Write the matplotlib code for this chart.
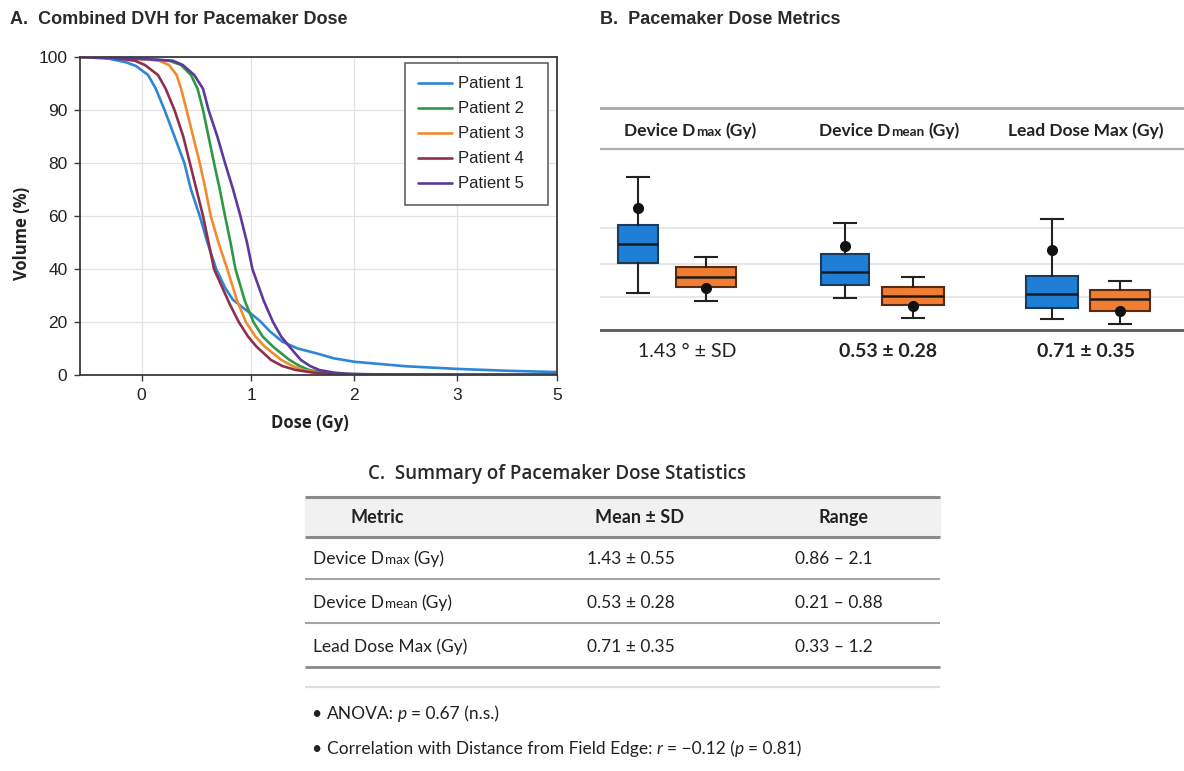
import numpy as np
import matplotlib
matplotlib.use("Agg")
import matplotlib.pyplot as plt

# ---------------- data ----------------
patients = ["Patient 1", "Patient 2", "Patient 3", "Patient 4", "Patient 5"]
colors = ["#2f86d6", "#2e9945", "#f28b30", "#8e2f4e", "#5b3a9b"]

dose_p1 = [-0.56, -0.3, -0.14, -0.05, 0.06, 0.13, 0.21, 0.30, 0.39, 0.45, 0.53, 0.60, 0.68,
           0.76, 0.83, 0.92, 1.0, 1.08, 1.18, 1.30, 1.45, 1.63, 1.80, 2.0, 2.5, 3.0, 4.0, 5.0]
vol_p1 = [100, 99.7, 99.0, 98.3, 96.6, 94, 90, 85, 80, 70, 60, 50, 40,
          33, 28.5, 25.5, 23, 20.5, 16.5, 12.6, 10, 8.2, 6.3, 5.0, 3.3, 2.3, 1.6, 1.1]
dose_p2 = [-0.56, 0.05, 0.25, 0.36, 0.45, 0.51, 0.56, 0.61, 0.66, 0.71, 0.76, 0.81, 0.855,
           0.94, 1.02, 1.11, 1.21, 1.37, 1.47, 1.56, 1.70, 1.88, 2.2, 3.0, 5.0]
dose_p3 = [-0.56, 0.0, 0.16, 0.25, 0.32, 0.36, 0.41, 0.47, 0.53, 0.58, 0.63, 0.70, 0.78,
           0.87, 0.95, 1.04, 1.13, 1.29, 1.40, 1.50, 1.65, 1.82, 2.1, 3.0, 5.0]
dose_p4 = [-0.56, -0.25, -0.06, 0.03, 0.15, 0.22, 0.30, 0.38, 0.44, 0.50, 0.56, 0.61, 0.66,
           0.80, 0.885, 0.97, 1.05, 1.19, 1.30, 1.43, 1.60, 1.82, 2.1, 3.0, 5.0]
dose_p5 = [-0.56, 0.05, 0.285, 0.375, 0.48, 0.56, 0.61, 0.69, 0.76, 0.83, 0.90, 0.96, 1.01,
           1.12, 1.21, 1.29, 1.37, 1.48, 1.57, 1.66, 1.80, 1.95, 2.3, 3.0, 5.0]
vol_common = [100, 99.6, 99.3, 98.5, 96.6, 94, 90, 85, 80, 70.5, 60, 50, 40,
              28, 20, 14.5, 10.7, 5.7, 3.4, 1.9, 0.9, 0.4, 0.2, 0.1, 0.1]
vol_p4 = [100, 99.8, 99.3, 98.5, 96.6, 94, 90, 85, 80, 70, 60, 50, 40,
          27, 20, 14.5, 10.7, 5.7, 3.4, 1.9, 0.9, 0.4, 0.2, 0.1, 0.1]
doses = [dose_p1, dose_p2, dose_p3, dose_p4, dose_p5]
vols = [vol_p1, vol_common, vol_common, vol_p4, vol_common]

x_ticks = [0, 1, 2, 3, 5]
y_ticks = [0, 20, 40, 60, 80, 90, 100]

# panel B box stats (blue, orange per metric)
metrics_b = ["Device D|max|(Gy)", "Device D|mean|(Gy)", "Lead Dose Max (Gy)"]
summary_b = ["1.43 \u00b0 \u00b1 SD", "0.53 \u00b1 0.28", "0.71 \u00b1 0.35"]
blue_q1 = [1.02, 0.68, 0.33]
blue_med = [1.30, 0.88, 0.55]
blue_q3 = [1.59, 1.15, 0.82]
blue_lo = [0.56, 0.48, 0.17]
blue_hi = [2.32, 1.62, 1.68]
blue_mean = [1.85, 1.27, 1.21]
orange_q1 = [0.65, 0.38, 0.29]
orange_med = [0.80, 0.52, 0.47]
orange_q3 = [0.95, 0.65, 0.61]
orange_lo = [0.44, 0.18, 0.09]
orange_hi = [1.11, 0.80, 0.74]
orange_mean = [0.64, 0.36, 0.29]

# panel C table
table_header = ["Metric", "Mean \u00b1 SD", "Range"]
row_labels = ["Device D|max|(Gy)", "Device D|mean|(Gy)", "Lead Dose Max (Gy)"]
row_means = ["1.43 \u00b1 0.55", "0.53 \u00b1 0.28", "0.71 \u00b1 0.35"]
row_ranges = ["0.86 \u2013 2.1", "0.21 \u2013 0.88", "0.33 \u2013 1.2"]

# ---------------- figure ----------------
W, H = 1184, 771
fig = plt.figure(figsize=(W / 100, H / 100), dpi=100)
fig.patch.set_facecolor("white")
renderer = fig.canvas.get_renderer()
TXT = "#222222"
SANS = "Lato"
HEAD = "Open Sans"
ARIAL = "Liberation Sans"


def fy(py):
    return 1 - py / H


def rich(x, y, parts, ha="left", **common):
    """parts: (text, kwargs, gap_px, dy_px); x, y in pixels from top-left, y = baseline"""
    objs = []
    for s, kw, gap, dy in parts:
        opts = dict(common)
        opts.update(kw)
        t = fig.text(0, fy(y + dy), s, va="baseline", ha="left", **opts)
        objs.append((t, gap))
    widths = [t.get_window_extent(renderer).width for t, _ in objs]
    total = sum(widths) + sum(g for _, g in objs)
    cur = x - total / 2 if ha == "center" else x
    for (t, gap), w in zip(objs, widths):
        cur += gap
        t.set_x(cur / W)
        cur += w


def metric_parts(label, size, weight):
    if "|" not in label:
        return [(label, dict(fontsize=size, weight=weight), 0, 0)]
    a, sub, b = label.split("|")
    return [(a, dict(fontsize=size, weight=weight), 0, 0),
            (sub, dict(fontsize=size * 0.78, weight=weight), 0.5, 0.5),
            (b, dict(fontsize=size, weight=weight), size * 0.33, 0)]


# titles
fig.text(10 / W, fy(20), "A.  Combined DVH for Pacemaker Dose", fontsize=13, family=ARIAL,
         weight="bold", color="#2a2a2a", va="center")
fig.text(600 / W, fy(20), "B.  Pacemaker Dose Metrics", fontsize=13, family=ARIAL,
         weight="bold", color="#2a2a2a", va="center")
fig.text(368 / W, fy(474), "C.  Summary of Pacemaker Dose Statistics", fontsize=13.5, family=HEAD,
         weight=600, color="#2a2a2a", va="center")

# ---------------- panel A ----------------
axA = fig.add_axes([80 / W, fy(375), (557 - 80) / W, (375 - 57) / H])
xk = [-1, 0, 1, 2, 3, 5, 6]
xp = [-110, 0, 110, 213, 316, 416, 466]
yk = [-10, 0, 20, 40, 60, 80, 90, 100, 110]
yp = [-0.5, 0, 1, 2, 3, 4, 5, 6, 6.5]
axA.set_xscale("function", functions=(lambda v: np.interp(v, xk, xp), lambda v: np.interp(v, xp, xk)))
axA.set_yscale("function", functions=(lambda v: np.interp(v, yk, yp), lambda v: np.interp(v, yp, yk)))

for name, c, d, v in zip(patients, colors, doses, vols):
    axA.plot(d, v, color=c, lw=1.9, label=name, solid_capstyle="round", solid_joinstyle="round")

axA.set_xlim(-0.56, 5)
axA.set_ylim(0, 100)
axA.set_xticks(x_ticks)
axA.set_yticks(y_ticks)
axA.set_xticklabels([str(t) for t in x_ticks], family=ARIAL, fontsize=12.5, color=TXT)
axA.set_yticklabels([str(t) for t in y_ticks], family=ARIAL, fontsize=12.5, color=TXT)
axA.grid(True, color="#e3e3e3", lw=0.9)
axA.set_axisbelow(True)
for s in axA.spines.values():
    s.set_color("#3a3a3a")
    s.set_linewidth(1.3)
axA.tick_params(length=4, width=1, color="#3a3a3a", pad=5)
axA.set_xlabel("Dose (Gy)", family=HEAD, weight="bold", fontsize=12, color=TXT)
axA.set_ylabel("Volume (%)", family=HEAD, weight="bold", fontsize=12, color=TXT)
axA.xaxis.set_label_coords((310 - 80) / 477, -(414 - 375) / 318)
axA.yaxis.set_label_coords(-(80 - 31) / 477, (375 - 233) / 318)
leg = axA.legend(loc="upper left", bbox_to_anchor=(0.681, 0.0, 0.30, 0.981), mode="expand",
                 borderaxespad=0, fancybox=False, edgecolor="#555555", framealpha=1,
                 prop={"family": ARIAL, "size": 12}, handlelength=2.0,
                 handletextpad=0.4, labelspacing=0.6, borderpad=0.8)
leg.get_frame().set_linewidth(1.1)
for t in leg.get_texts():
    t.set_color(TXT)

# ---------------- panel B ----------------
gx0, gsp = 672, 207
axB = fig.add_axes([600 / W, fy(340), (1184 - 600) / W, (340 - 100) / H])
axB.set_xlim((600 - gx0) / gsp, (1184 - gx0) / gsp)
axB.set_ylim((330 - 340) / 66, (330 - 100) / 66)
axB.axis("off")

v_top, v_head, v_bot = (330 - 108) / 66, (330 - 149) / 66, 0.0
axB.axhline(v_top, color="#a8a8a8", lw=2.0)
axB.axhline(v_head, color="#b0b0b0", lw=1.6)
for g in [0.5, 1.0, 1.55]:
    axB.axhline(g, color="#e0e0e0", lw=1.1, zorder=0)
axB.axhline(v_bot, color="#5a5a5a", lw=2.0)

stats, pos, widths, faces, edges = [], [], [], [], []
box_w = [(0.19, 0.29), (0.23, 0.30), (0.25, 0.29)]
for i in range(3):
    stats.append(dict(med=blue_med[i], q1=blue_q1[i], q3=blue_q3[i], whislo=blue_lo[i],
                      whishi=blue_hi[i], mean=blue_mean[i], fliers=[]))
    stats.append(dict(med=orange_med[i], q1=orange_q1[i], q3=orange_q3[i], whislo=orange_lo[i],
                      whishi=orange_hi[i], mean=orange_mean[i], fliers=[]))
    pos += [i - 0.165, i + 0.165]
    widths += list(box_w[i])
    faces += ["#1f7fd6", "#ef7d32"]
    edges += ["#1c3a5e", "#5a2a12"]

bp = axB.bxp(stats, positions=pos, widths=widths, patch_artist=True, showmeans=True,
             showfliers=False, capwidths=0.105,
             medianprops=dict(color="#1a1a1a", lw=1.8),
             whiskerprops=dict(color="#222222", lw=1.5),
             capprops=dict(color="#222222", lw=1.5),
             meanprops=dict(marker="o", markerfacecolor="#111111", markeredgecolor="#111111",
                            markersize=7))
for b, fc, ec in zip(bp["boxes"], faces, edges):
    b.set_facecolor(fc)
    b.set_edgecolor(ec)
    b.set_linewidth(1.5)

head_x = [0.09, 1.05, 2.0]
val_x = [0.075, 1.045, 2.0]
for i in range(3):
    px = gx0 + gsp * head_x[i]
    rich(px, 136, metric_parts(metrics_b[i], 12.5, "bold"), ha="center", family=SANS, color=TXT)
    px = gx0 + gsp * val_x[i]
    wt = "normal" if i == 0 else "bold"
    rich(px, 357, [(summary_b[i], dict(fontsize=14, weight=wt), 0, 0)], ha="center",
         family=SANS, color=TXT)

# ---------------- panel C ----------------
axC = fig.add_axes([300 / W, 0, (945 - 300) / W, (771 - 490) / H])
axC.set_xlim(300, 945)
axC.set_ylim(771, 490)
axC.axis("off")
axC.fill_between([305, 940], 497, 537, color="#f1f1f1", zorder=0)
axC.hlines(497, 305, 940, color="#8a8a8a", lw=2.2)
axC.hlines(537, 305, 940, color="#8a8a8a", lw=2.2)
axC.hlines([579, 623], 305, 940, color="#a5a5a5", lw=1.5)
axC.hlines(667, 305, 940, color="#8a8a8a", lw=2.0)
axC.hlines(687, 305, 940, color="#dedede", lw=1.6)

for cx, s in zip([377, 640, 843], table_header):
    rich(cx, 523, [(s, dict(fontsize=13, weight="bold"), 0, 0)], ha="center",
         family=SANS, color=TXT)
for i, yb in enumerate([564, 608, 652]):
    rich(313, yb, metric_parts(row_labels[i], 12.5, "normal"), family=SANS, color=TXT)
    rich(587, yb, [(row_means[i], dict(fontsize=12.5), 0, 0)], family=SANS, color=TXT)
    rich(795, yb, [(row_ranges[i], dict(fontsize=12.5), 0, 0)], family=SANS, color=TXT)

fs = 12.5
rich(311, 719, [("\u2022", dict(fontsize=fs), 0, 0),
                ("ANOVA:", dict(fontsize=fs), 6, 0),
                ("p", dict(fontsize=fs, style="italic"), 4, 0),
                ("= 0.67 (n.s.)", dict(fontsize=fs), 4, 0)], family=SANS, color=TXT)
rich(311, 754, [("\u2022", dict(fontsize=fs), 0, 0),
                ("Correlation with Distance from Field Edge:", dict(fontsize=fs), 6, 0),
                ("r", dict(fontsize=fs, style="italic"), 4, 0),
                ("= \u22120.12 (", dict(fontsize=fs), 4, 0),
                ("p", dict(fontsize=fs, style="italic"), 0, 0),
                ("= 0.81)", dict(fontsize=fs), 4, 0)], family=SANS, color=TXT)

fig.savefig("out.png", dpi=100)
